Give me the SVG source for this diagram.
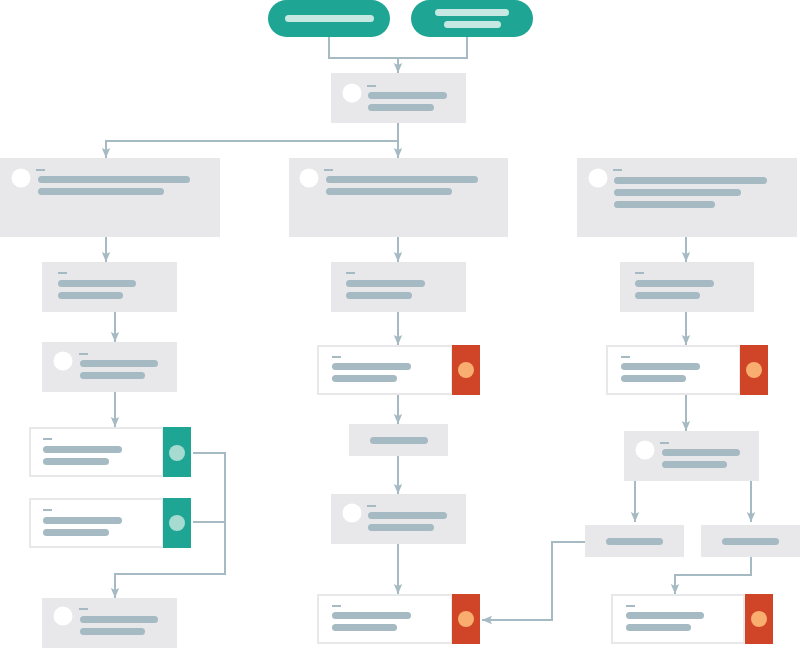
<svg xmlns="http://www.w3.org/2000/svg" width="800" height="648" viewBox="0 0 800 648">
<defs>
<style>
.box{fill:#e8e8ea}
.card{fill:#ffffff;stroke:#e8e8ea;stroke-width:2}
.bar{fill:#a5bac2}
.dash{fill:#a5bac2}
.dot{fill:#ffffff}
.pill{fill:#1fa593}
.pbar{fill:#c6e8e3}
.red{fill:#d04428}
.peach{fill:#f9ad6f}
.green{fill:#1fa593}
.mint{fill:#a6dbd1}
.conn{fill:none;stroke:#a5bac2;stroke-width:2}
</style>
<marker id="ah" markerUnits="userSpaceOnUse" markerWidth="10" markerHeight="10" viewBox="0 0 10 10" refX="10" refY="5" orient="auto">
<path d="M0,0.8 L10,5 L0,9.2 L2,5 z" fill="#a5bac2"/>
</marker>
</defs>
<rect width="800" height="648" fill="#ffffff"/>

<g id="connectors">
<path class="conn" d="M329,37 V58 H467 V37"/>
<path class="conn" d="M398,58 V73" marker-end="url(#ah)"/>
<path class="conn" d="M398,123 V158" marker-end="url(#ah)"/>
<path class="conn" d="M398,141 H106 V158" marker-end="url(#ah)"/>
<path class="conn" d="M106,237 V262" marker-end="url(#ah)"/>
<path class="conn" d="M115,312 V342" marker-end="url(#ah)"/>
<path class="conn" d="M115,392 V427" marker-end="url(#ah)"/>
<path class="conn" d="M193,453 H225 V574 H115 V598" marker-end="url(#ah)"/>
<path class="conn" d="M193,522 H225"/>
<path class="conn" d="M398,237 V262" marker-end="url(#ah)"/>
<path class="conn" d="M398,312 V345" marker-end="url(#ah)"/>
<path class="conn" d="M398,395 V424" marker-end="url(#ah)"/>
<path class="conn" d="M398,456 V494" marker-end="url(#ah)"/>
<path class="conn" d="M398,544 V594" marker-end="url(#ah)"/>
<path class="conn" d="M686,237 V262" marker-end="url(#ah)"/>
<path class="conn" d="M686,312 V345" marker-end="url(#ah)"/>
<path class="conn" d="M686,395 V431" marker-end="url(#ah)"/>
<path class="conn" d="M635,481 V522" marker-end="url(#ah)"/>
<path class="conn" d="M751,481 V522" marker-end="url(#ah)"/>
<path class="conn" d="M585,542 H552 V620 H482" marker-end="url(#ah)"/>
<path class="conn" d="M751,557 V575 H675 V594" marker-end="url(#ah)"/>
</g>

<g id="start-a">
<rect class="pill" x="268" y="0" width="122" height="37" rx="18.5"/>
<rect class="pbar" x="285" y="15" width="89" height="7" rx="3.5"/>
</g>
<g id="start-b">
<rect class="pill" x="411" y="0" width="122" height="37" rx="18.5"/>
<rect class="pbar" x="435" y="9" width="74" height="7" rx="3.5"/>
<rect class="pbar" x="444" y="21" width="57" height="7" rx="3.5"/>
</g>

<g id="n1">
<rect class="box" x="331" y="73" width="135" height="50"/>
<circle class="dot" cx="352" cy="93" r="9.5"/>
<rect class="dash" x="367" y="85" width="9" height="2"/>
<rect class="bar" x="368" y="92" width="79" height="7" rx="3.5"/>
<rect class="bar" x="368" y="104" width="66" height="7" rx="3.5"/>
</g>

<g id="big-left">
<rect class="box" x="0" y="158" width="220" height="79"/>
<circle class="dot" cx="21" cy="178" r="9.5"/>
<rect class="dash" x="36" y="169" width="9" height="2"/>
<rect class="bar" x="38" y="176" width="152" height="7" rx="3.5"/>
<rect class="bar" x="38" y="188" width="126" height="7" rx="3.5"/>
</g>
<g id="big-mid">
<rect class="box" x="289" y="158" width="219" height="79"/>
<circle class="dot" cx="309" cy="178" r="9.5"/>
<rect class="dash" x="324" y="169" width="9" height="2"/>
<rect class="bar" x="326" y="176" width="152" height="7" rx="3.5"/>
<rect class="bar" x="326" y="188" width="126" height="7" rx="3.5"/>
</g>
<g id="big-right">
<rect class="box" x="577" y="158" width="220" height="79"/>
<circle class="dot" cx="598" cy="178" r="9.5"/>
<rect class="dash" x="613" y="169" width="9" height="2"/>
<rect class="bar" x="614" y="177" width="153" height="7" rx="3.5"/>
<rect class="bar" x="614" y="189" width="127" height="7" rx="3.5"/>
<rect class="bar" x="614" y="201" width="101" height="7" rx="3.5"/>
</g>

<g id="l1">
<rect class="box" x="42" y="262" width="135" height="50"/>
<rect class="dash" x="58" y="272" width="9" height="2"/>
<rect class="bar" x="58" y="280" width="78" height="7" rx="3.5"/>
<rect class="bar" x="58" y="292" width="65" height="7" rx="3.5"/>
</g>
<g id="l2">
<rect class="box" x="42" y="342" width="135" height="50"/>
<circle class="dot" cx="63" cy="361" r="9.5"/>
<rect class="dash" x="79" y="353" width="9" height="2"/>
<rect class="bar" x="80" y="360" width="78" height="7" rx="3.5"/>
<rect class="bar" x="80" y="372" width="65" height="7" rx="3.5"/>
</g>
<g id="l3">
<rect class="card" x="30" y="428" width="133" height="48"/>
<rect class="green" x="163" y="427" width="28" height="50"/>
<circle class="mint" cx="177" cy="453" r="8"/>
<rect class="dash" x="43" y="438" width="9" height="2"/>
<rect class="bar" x="43" y="446" width="79" height="7" rx="3.5"/>
<rect class="bar" x="43" y="458" width="66" height="7" rx="3.5"/>
</g>
<g id="l4">
<rect class="card" x="30" y="499" width="133" height="48"/>
<rect class="green" x="163" y="498" width="28" height="50"/>
<circle class="mint" cx="177" cy="523" r="8"/>
<rect class="dash" x="43" y="509" width="9" height="2"/>
<rect class="bar" x="43" y="517" width="79" height="7" rx="3.5"/>
<rect class="bar" x="43" y="529" width="66" height="7" rx="3.5"/>
</g>
<g id="l5">
<rect class="box" x="42" y="598" width="135" height="50"/>
<circle class="dot" cx="63" cy="616" r="9.5"/>
<rect class="dash" x="79" y="608" width="9" height="2"/>
<rect class="bar" x="80" y="616" width="78" height="7" rx="3.5"/>
<rect class="bar" x="80" y="628" width="65" height="7" rx="3.5"/>
</g>

<g id="m1">
<rect class="box" x="331" y="262" width="135" height="50"/>
<rect class="dash" x="346" y="272" width="9" height="2"/>
<rect class="bar" x="346" y="280" width="79" height="7" rx="3.5"/>
<rect class="bar" x="346" y="292" width="66" height="7" rx="3.5"/>
</g>
<g id="m2">
<rect class="card" x="318" y="346" width="134" height="48"/>
<rect class="red" x="452" y="345" width="28" height="50"/>
<circle class="peach" cx="466" cy="370" r="8"/>
<rect class="dash" x="332" y="356" width="9" height="2"/>
<rect class="bar" x="332" y="363" width="79" height="7" rx="3.5"/>
<rect class="bar" x="332" y="375" width="65" height="7" rx="3.5"/>
</g>
<g id="m3">
<rect class="box" x="349" y="424" width="99" height="32"/>
<rect class="bar" x="370" y="437" width="58" height="7" rx="3.5"/>
</g>
<g id="m4">
<rect class="box" x="331" y="494" width="135" height="50"/>
<circle class="dot" cx="352" cy="513" r="9.5"/>
<rect class="dash" x="367" y="505" width="9" height="2"/>
<rect class="bar" x="368" y="512" width="79" height="7" rx="3.5"/>
<rect class="bar" x="368" y="524" width="66" height="7" rx="3.5"/>
</g>
<g id="m5">
<rect class="card" x="318" y="595" width="134" height="48"/>
<rect class="red" x="452" y="594" width="28" height="50"/>
<circle class="peach" cx="466" cy="619" r="8"/>
<rect class="dash" x="332" y="605" width="9" height="2"/>
<rect class="bar" x="332" y="612" width="79" height="7" rx="3.5"/>
<rect class="bar" x="332" y="624" width="65" height="7" rx="3.5"/>
</g>

<g id="r1">
<rect class="box" x="620" y="262" width="134" height="50"/>
<rect class="dash" x="635" y="272" width="9" height="2"/>
<rect class="bar" x="635" y="280" width="79" height="7" rx="3.5"/>
<rect class="bar" x="635" y="292" width="65" height="7" rx="3.5"/>
</g>
<g id="r2">
<rect class="card" x="607" y="346" width="133" height="48"/>
<rect class="red" x="740" y="345" width="28" height="50"/>
<circle class="peach" cx="754" cy="370" r="8"/>
<rect class="dash" x="621" y="356" width="9" height="2"/>
<rect class="bar" x="621" y="363" width="79" height="7" rx="3.5"/>
<rect class="bar" x="621" y="375" width="65" height="7" rx="3.5"/>
</g>
<g id="r3">
<rect class="box" x="624" y="431" width="135" height="50"/>
<circle class="dot" cx="645" cy="450" r="9.5"/>
<rect class="dash" x="660" y="442" width="9" height="2"/>
<rect class="bar" x="662" y="449" width="78" height="7" rx="3.5"/>
<rect class="bar" x="662" y="461" width="65" height="7" rx="3.5"/>
</g>
<g id="r4">
<rect class="box" x="585" y="525" width="99" height="32"/>
<rect class="bar" x="606" y="538" width="57" height="7" rx="3.5"/>
</g>
<g id="r5">
<rect class="box" x="701" y="525" width="99" height="32"/>
<rect class="bar" x="722" y="538" width="57" height="7" rx="3.5"/>
</g>
<g id="r6">
<rect class="card" x="612" y="595" width="132" height="48"/>
<rect class="red" x="745" y="594" width="28" height="50"/>
<circle class="peach" cx="759" cy="619" r="8"/>
<rect class="dash" x="626" y="605" width="9" height="2"/>
<rect class="bar" x="626" y="612" width="78" height="7" rx="3.5"/>
<rect class="bar" x="626" y="624" width="65" height="7" rx="3.5"/>
</g>
</svg>
